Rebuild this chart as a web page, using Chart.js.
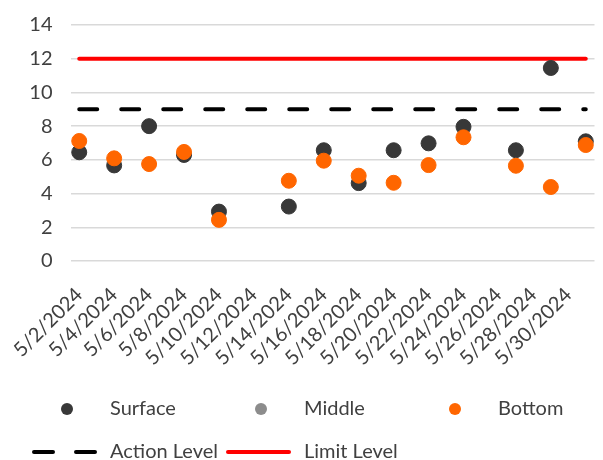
<!DOCTYPE html>
<html>
<head>
<meta charset="utf-8">
<script src="https://cdn.jsdelivr.net/npm/chart.js@4.4.0/dist/chart.umd.min.js"></script>
<style>
  html, body { margin: 0; padding: 0; background: #fff; }
  #wrap { width: 603px; height: 460px; position: relative; }
</style>
</head>
<body>
<div id="wrap"><canvas id="scatterchart"></canvas></div>
<script>
// sample days in May 2024
var sampleDates = [2, 4, 6, 8, 10, 14, 16, 18, 20, 22, 24, 27, 29, 31];
var surface = [6.45, 5.67, 8.0, 6.29, 2.93, 3.23, 6.57, 4.62, 6.57, 6.98, 7.96, 6.57, 11.45, 7.1];
var middle = [];
var bottom = [7.12, 6.09, 5.75, 6.47, 2.44, 4.76, 5.95, 5.06, 4.64, 5.69, 7.34, 5.65, 4.39, 6.88];
var actionLevel = 9;
var limitLevel = 12;

// axis ticks
var tickDays = [2, 4, 6, 8, 10, 12, 14, 16, 18, 20, 22, 24, 26, 28, 30];
var yTicks = [0, 2, 4, 6, 8, 10, 12, 14];

var textColor = '#404040';
var fontFamily = 'Lato';

function points(vals) {
	return sampleDates.map(function (d, i) {
		return { x: d, y: vals[i] };
	}).filter(function (p) { return p.y !== undefined && p.y !== null; });
}
function level(v) {
	return sampleDates.map(function (d) { return { x: d, y: v }; });
}

/*----------------------------------------*/
/*  legend drawn like the excel one
/*----------------------------------------*/
var excelLegend = {
	id: 'excelLegend',
	afterDraw: function (chart) {
		var c = chart.ctx;
		var colW = 194, left = 32;
		var rows = [409, 452];
		c.save();
		c.font = '20px ' + fontFamily;
		c.textBaseline = 'middle';
		chart.data.datasets.forEach(function (ds, i) {
			var row = ds.showLine ? 1 : 0;
			var col = ds.showLine ? i - 3 : i;
			var x = left + col * colW;
			var y = rows[row];
			if (ds.showLine) {
				c.beginPath();
				c.lineWidth = ds.borderWidth;
				c.lineCap = 'round';
				c.strokeStyle = ds.borderColor;
				c.setLineDash(ds.borderDash ? [19, 23] : []);
				c.moveTo(x + 2, y);
				c.lineTo(x + 63, y);
				c.stroke();
				c.setLineDash([]);
			} else {
				c.beginPath();
				c.fillStyle = ds.backgroundColor;
				c.arc(x + 35, y, 6, 0, Math.PI * 2);
				c.fill();
			}
			c.fillStyle = textColor;
			c.textAlign = 'left';
			c.fillText(ds.label, x + 78, y);
		});
		c.restore();
	}
};

var ctx = document.getElementById('scatterchart');
var scatterchart = new Chart(ctx, {
	type: 'scatter',
	data: {
		datasets: [{
			label: 'Surface',
			data: points(surface),
			backgroundColor: '#383838',
			borderColor: '#383838',
			pointRadius: 7.5,
			order: 2
		}, {
			label: 'Middle',
			data: points(middle),
			backgroundColor: '#8c8c8c',
			borderColor: '#8c8c8c',
			pointRadius: 7.5,
			order: 1
		}, {
			label: 'Bottom',
			data: points(bottom),
			backgroundColor: '#ff6600',
			borderColor: '#ff6600',
			pointRadius: 7.5,
			order: 0
		}, {
			label: 'Action Level',
			data: level(actionLevel),
			showLine: true,
			borderColor: '#000000',
			borderWidth: 4,
			borderDash: [18, 24],
			borderCapStyle: 'round',
			pointRadius: 0,
			order: 3
		}, {
			label: 'Limit Level',
			data: level(limitLevel),
			showLine: true,
			borderColor: '#ff0000',
			borderWidth: 4,
			borderCapStyle: 'round',
			pointRadius: 0,
			order: 3
		}]
	},
	options: {
		responsive: true,
		maintainAspectRatio: false,
		animation: false,
		layout: { padding: { top: 25, right: 3, left: 0, bottom: 0 } },
		plugins: {
			legend: { display: false },
			tooltip: { enabled: false }
		},
		scales: {
			x: {
				type: 'linear',
				min: 1.5,
				max: 31.5,
				grid: { display: false },
				border: { display: false },
				afterBuildTicks: function (s) {
					s.ticks = tickDays.map(function (v) { return { value: v }; });
				},
				afterFit: function (s) {
					s.height = 199;
					s.paddingLeft = 0;
					s.paddingRight = 0;
				},
				ticks: {
					minRotation: 45,
					maxRotation: 45,
					autoSkip: false,
					padding: 14,
					color: textColor,
					font: { family: fontFamily, size: 20 },
					callback: function (v) { return '5/' + v + '/2024'; }
				}
			},
			y: {
				min: 0,
				max: 14,
				border: { display: false },
				grid: { color: '#d9d9d9', lineWidth: 1.5, drawTicks: false },
				afterBuildTicks: function (s) {
					s.ticks = yTicks.map(function (v) { return { value: v }; });
				},
				afterFit: function (s) {
					s.width = 70.5;
					s.paddingTop = 0;
					s.paddingBottom = 0;
				},
				ticks: {
					padding: 18,
					color: textColor,
					font: { family: fontFamily, size: 20 }
				}
			}
		}
	},
	plugins: [excelLegend]
});
</script>
</body>
</html>
